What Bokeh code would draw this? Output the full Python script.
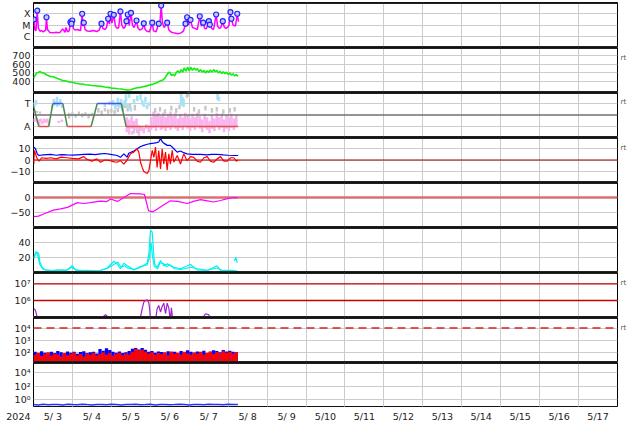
import numpy as np
from bokeh.plotting import figure
from bokeh.layouts import column
from bokeh.models import (Range1d, FixedTicker, CustomJSTickFormatter, Span, Grid,
                          LinearAxis, LogAxis)
from bokeh.core.properties import value
from bokeh.embed import file_html
from bokeh.resources import INLINE

# ---------------- tick / label data ----------------
year_label = "2024"
day_edges = [0, 24, 48, 72, 96, 120, 144, 168, 192, 216, 240, 264, 288, 312, 336, 360]
day_mid = [12, 36, 60, 84, 108, 132, 156, 180, 204, 228, 252, 276, 300, 324, 348]
day_labels = ["5/ 3", "5/ 4", "5/ 5", "5/ 6", "5/ 7", "5/ 8", "5/ 9", "5/10", "5/11",
              "5/12", "5/13", "5/14", "5/15", "5/16", "5/17"]
xray_exps = [-4, -5, -6]
xray_names = ["X", "M", "C"]
sup_exps = [0, 2, 3, 4, 6, 7]
sup_names = ["10\u2070", "10\u00b2", "10\u00b3", "10\u2074", "10\u2076", "10\u2077"]
sector_vals = [1, -1]
sector_names = ["T", "A"]
rt_text = "rt"

# ---------------- panel 1: X-ray flux (hours since 5/3 00UT) ----------------
xr_h = [0, 0.2, 0.8, 1.5, 2.3, 3.0, 4, 5, 6, 7.5,
        8.0, 8.6, 10, 12, 14, 16, 18, 19.5, 20, 21,
        22, 22.8, 23.4, 23.9, 24.6, 25.5, 27, 29, 30.0, 30.5,
        31.0, 31.8, 33, 35, 37, 39, 40.5, 41.9, 42.8, 44,
        45, 46.0, 46.8, 47.5, 48.3, 49.5, 50.5, 51.5, 52.5, 53.6,
        54.4, 55.5, 56.5, 57.3, 58.1, 59, 60.1, 61, 62, 63.5,
        64.3, 65.5, 67, 68.0, 68.8, 70, 71.5, 73.2, 74, 75.5,
        77.2, 77.8, 78.7, 79.5, 80.5, 82.4, 83.5, 85, 87, 89,
        91, 92.5, 93.7, 94.7, 95.5, 96.8, 98, 99.5, 101, 102.5,
        103.5, 104.6, 105.5, 106.5, 108.1, 108.7, 109.8, 111, 112.6, 113.5,
        114.5, 115.5, 116.7, 117.5, 118.5, 119.5, 120.5, 121.4, 122.0, 123,
        124.5, 125.6, 126.4]
xr_f = [2.8e-5, 3.0e-5, 4e-6, 3e-6, 1.7e-4, 5e-6, 2.8e-6, 3.2e-6, 2.5e-6, 3.5e-6,
        4.6e-5, 4e-6, 2.2e-6, 2.0e-6, 2.3e-6, 2.0e-6, 4.5e-6, 2.2e-6, 6e-6, 2.5e-6,
        3e-6, 1.7e-5, 1.2e-5, 2.3e-5, 5e-6, 3.5e-6, 4e-6, 3.2e-6, 9e-5, 8e-6,
        1.5e-5, 4e-6, 3e-6, 2.8e-6, 3.2e-6, 2.6e-6, 3.5e-6, 1.2e-5, 5e-6, 4e-6,
        6e-6, 3.3e-5, 1.2e-5, 9e-5, 1.5e-5, 7.5e-5, 8e-6, 5e-6, 6e-6, 1.5e-4,
        1e-5, 5e-6, 7e-6, 2e-5, 8e-5, 9e-6, 1.1e-4, 1e-5, 6e-6, 2.3e-5,
        6e-6, 3.5e-6, 4.5e-6, 1.3e-5, 4e-6, 2.8e-6, 2.5e-6, 1.5e-5, 3e-6, 2.5e-6,
        1.2e-5, 8e-6, 5e-4, 1.5e-5, 6e-6, 1.5e-5, 3.5e-6, 2.3e-6, 1.9e-6, 1.7e-6,
        2e-6, 3e-6, 1.2e-5, 4.5e-5, 1e-5, 2.7e-5, 6e-6, 5e-6, 4e-6, 5.5e-5,
        8e-6, 1.5e-5, 5e-6, 4.5e-6, 2e-5, 1e-5, 5e-6, 4e-6, 8e-5, 8e-6,
        5e-6, 6e-6, 2e-5, 7e-6, 5e-6, 6e-6, 9e-6, 1.3e-4, 3.3e-5, 1e-5,
        8e-6, 9e-5, 2e-5]
flare_h = [0.2, 2.3, 8.0, 22.8, 23.9, 23.4, 30.0, 31.0, 41.9, 46.0, 47.5, 49.5, 53.6, 57.3,
           58.1, 60.1, 63.5, 68.0, 73.2, 77.2, 78.7, 82.4, 93.7, 94.7, 96.8, 102.5, 104.6,
           108.1, 108.7, 112.6, 116.7, 121.4, 122.0, 125.6]
flare_f = [3.1e-5, 1.9e-4, 4.9e-5, 1.8e-5, 2.5e-5, 1.3e-5, 1.0e-4, 1.6e-5, 1.3e-5, 3.6e-5,
           1.0e-4, 8.1e-5, 1.6e-4, 2.2e-5, 8.6e-5, 1.2e-4, 2.5e-5, 1.4e-5, 1.6e-5, 1.3e-5,
           5.4e-4, 1.6e-5, 1.3e-5, 4.9e-5, 2.9e-5, 6.0e-5, 1.6e-5, 2.2e-5, 1.1e-5, 8.6e-5,
           2.2e-5, 1.4e-4, 3.6e-5, 1.0e-4]

# ---------------- panel 2: solar wind speed ----------------
sw_h = [0, 1, 2, 3, 4, 5, 6, 7, 8,
        10, 12, 14, 16, 18, 20, 22, 24, 26, 28, 30, 32, 34, 36, 38, 40, 42, 44, 46, 48,
        50, 52, 54, 56, 58, 60, 62, 64, 66, 68, 70, 72, 74, 76, 78, 80,
        81, 82, 83, 84, 85, 86, 87, 88, 89, 90, 91, 92, 93, 94, 95, 96, 97, 98, 99, 100,
        101, 102, 103, 104, 105, 106, 107, 108, 109, 110, 111, 112, 113, 114, 115, 116,
        117, 118, 119, 120, 121, 122, 123, 124, 125, 126]
sw_v = [440, 470, 500, 505, 520, 500, 505, 490, 480,
        460, 455, 440, 425, 410, 405, 395, 390, 380, 372, 370, 362, 358, 352, 350, 345,
        342, 335, 330, 322, 320, 315, 312, 305, 300, 302, 318, 325, 330, 340, 348, 360,
        370, 385, 405, 420,
        440, 470, 500, 510, 470, 485, 465, 505, 525, 500, 540, 510, 560, 520, 570, 525,
        565, 530, 560, 535, 550, 515, 540, 510, 530, 500, 525, 505, 535, 510, 540, 515,
        530, 500, 520, 495, 515, 490, 510, 480, 500, 475, 490, 465, 480, 460]

# ---------------- panel 3: IMF sector (T = +1, A = -1) ----------------
sector_h = [0, 3.3, 9.4, 11.9, 18.1, 20.8, 35.5, 39.3, 54.1, 57.1, 126.2]
sector_v = [0.75, -1, -1, 1, 1, -1, -1, 1, 1, -1, -1]
lb_h = [0.5, 1.5, 11.5, 12.5, 13.5, 14.5, 15.5, 16.5, 17.5,
        44, 47, 49, 50.5, 52, 53, 54, 55, 56, 57, 58, 59, 60, 62, 64,
        66, 67, 68, 69, 70, 71, 91, 91.8, 92.5, 113.5, 114.3]
lb_lo = [0.7, 0.9, 0.6, 0.8, 0.9, 0.7, 0.8, 1.0, 0.6,
         0.7, 0.9, 0.8, 0.5, 0.7, 0.6, 0.9, 0.3, 0.8, 1.2, 0.6, 1.5, 0.3, 1.0, 1.2,
         1.3, 0.9, 0.7, 1.1, 0.5, 0.8, 0.8, 1.0, 0.7, 1.3, 1.2]
lb_hi = [1.1, 1.3, 0.9, 1.4, 1.2, 1.6, 1.1, 1.4, 0.9,
         1.0, 1.2, 1.3, 1.0, 1.5, 1.1, 1.4, 0.8, 1.2, 1.8, 1.0, 1.9, 0.7, 1.4, 1.7,
         1.8, 1.3, 1.1, 1.6, 0.9, 1.1, 1.9, 1.6, 1.4, 1.9, 1.6]
gy_h = [0.5, 2, 4, 22, 24, 26, 28, 30, 32, 34, 36, 40, 42, 44, 46, 48, 50, 52, 55, 56.5,
        58, 59.5, 61, 62.5, 64, 75, 78, 81, 85, 88, 90, 94.5, 95.5, 99, 102, 106, 110,
        113, 117, 121, 124]
gy_lo = [0.15, 0.2, 0.1, -0.3, -0.1, -0.25, 0.0, -0.2, -0.05, -0.3, -0.1, 0.2, 0.0, 0.3,
         0.1, 0.2, 0.05, 0.25, 0.4, 0.6, 0.3, 0.5, -1.7, 0.4, -1.6, 0.2, 0.3, 0.1, 0.4,
         0.2, 0.5, 1.5, 1.6, 0.3, 0.1, 0.4, 0.2, 0.3, 0.1, 0.2, 0.3]
gy_hi = [0.4, 0.35, 0.3, 0.2, 0.25, 0.1, 0.3, 0.15, 0.25, 0.1, 0.2, 0.6, 0.4, 0.6, 0.5,
         0.55, 0.45, 0.6, 1.0, 1.3, 0.8, 1.0, -1.4, 0.9, -1.3, 0.6, 0.7, 0.5, 0.8, 0.6,
         0.9, 1.9, 2.0, 0.7, 0.5, 0.8, 0.6, 0.7, 0.5, 0.6, 0.7]
pk_h = [0.5, 1.5, 2.5, 3.5, 4.5, 5.5, 6.5, 7.5, 8.5, 9.5, 15.5, 17.5,
        57.5, 59, 60.5, 62, 63.5, 65, 66.5, 68, 69.5, 71, 72.5, 74, 75.5, 77, 78.5, 80,
        81.5, 83, 84.5, 86, 87.5, 89, 90.5, 92, 93.5, 95, 96.5, 98, 99.5, 101, 102.5,
        104, 105.5, 107, 108.5, 110, 111.5, 113, 114.5, 116, 117.5, 119, 120.5, 122,
        123.5, 125]
pk_lo = [-0.6, -0.5, -0.7, -0.9, -0.6, -0.8, -0.6, -0.7, -0.6, -0.9, -0.7, -0.6,
         -1.5, -1.7, -1.2, -1.6, -1.3, -1.8, -1.4, -1.6, -1.2, -1.5, -1.3, -1.1, -1.4,
         -1.0, -1.3, -1.2, -1.4, -1.1, -1.3, -1.0, -1.2, -1.4, -1.1, -1.3, -1.0, -1.2,
         -1.4, -1.1, -1.3, -1.0, -1.2, -1.5, -1.1, -1.3, -1.6, -1.2, -1.4, -1.0, -1.3,
         -1.1, -1.5, -1.2, -1.4, -1.1, -1.3, -1.0]
pk_hi = [-0.3, -0.2, -0.4, -0.4, -0.3, -0.5, -0.3, -0.4, -0.3, -0.5, -0.5, -0.4,
         -0.2, -0.4, -0.1, -0.5, -0.3, -0.9, -1.0, -1.1, -0.8, -0.9, -0.2, 0.3, 0.1,
         0.2, -0.1, 0.2, -0.2, 0.1, 0.3, -0.1, 0.2, -0.3, 0.1, -0.2, 0.2, 0.0, -0.3,
         0.1, -0.2, 0.2, -0.1, -0.4, 0.1, -0.2, -0.5, 0.0, -0.3, 0.2, -0.2, 0.1, -0.4,
         0.0, -0.2, 0.1, -0.3, 0.0]

# ---------------- panel 4: IMF Bt / Bz (nT) ----------------
bt_h = [0.2, 1.2, 2.3, 3.3, 6, 10.5, 14, 17, 20.7, 24, 27, 31, 35, 38, 41.3, 44, 47.5,
        51.6, 53.6, 55.7, 57.7, 58.7, 61.8, 64, 66, 68, 70.1, 72, 74.2, 76, 77.2, 78.3,
        79.5, 80.3, 82.4, 84.4, 86.5, 88.6, 90.6, 92.6, 94.7, 98, 102.9, 107, 110, 113.2,
        117, 120, 123.5, 126.2]
bt_v = [11.5, 10, 5.5, 4, 4.5, 5, 4.2, 4.8, 4.5, 4.3, 4.6, 5, 5.2, 4.8, 5.5, 5.8, 5, 4,
        2.4, 5.5, 2.5, 6, 8, 10, 12, 13, 14, 14.5, 15, 15.5, 16, 19, 16, 15, 13, 13, 10,
        7, 8, 6.5, 5.5, 5, 5, 4.5, 5, 5, 4.5, 4.2, 4, 4]
bz_h = [0.2, 0.5, 2.3, 3.5, 5, 8, 10.5, 14, 17, 20.7, 24, 27.7, 31, 33, 36, 39, 41.3, 44,
        47.5, 49, 51.6, 53.6, 55.7, 57.7, 59.8, 61.8, 63.9, 64.9, 66, 67, 68, 70.1, 71.1,
        72.1, 73.2, 74.2, 75.2, 76.2, 77.2, 78.3, 79.3, 80.3, 81.4, 82.4, 83.4, 84.4,
        85.5, 86.5, 88.6, 90.6, 92.6, 94.7, 96.8, 98.8, 100.9, 102.9, 105, 107.1, 109,
        111.1, 113.2, 115.3, 117.4, 119.4, 121.5, 123.5, 125, 126.2]
bz_v = [-3.6, 8.5, 1, -1, 2, 1.5, 2, 1, 2.5, 2, 1.5, 1, 3, 0.5, -1, 1, -2, 0, -0.6, -1.5,
        -2, -0.5, -3.6, 0, 5.5, 7, 10, 7, -2, -6.6, -10.3, -12, -9.7, -0.6, 8.5, 2.4,
        11.5, -6.6, 8.5, -8, 10, -3.6, 7, -9, 5.5, -3.6, 8.5, -2, 4, -3.6, 5.5, -0.6, 3,
        2.4, -1, -2, 2, 3, -1, -2, 1, 3, -1, -1, 2, 2, -1, 0]

# ---------------- panel 5: Dst (nT) ----------------
dst_h = [0, 3.1, 6.2, 12.3, 16.6, 21, 27, 30.8, 35, 41.3, 45, 47.5, 51.8, 55.5, 59.8, 66,
         68.4, 70.9, 73.4, 76.4, 80.1, 84.4, 88.8, 94.9, 98.6, 102.9, 107.3, 111, 115.3,
         119.6, 123.3, 125.8]
dst_v = [-64, -62, -55, -42, -38, -33, -17, -20, -17, -12, -14, -5, -13, -1, 13, 12, 10,
         -44, -48, -38, -25, -11, -13, -20, -13, -7, -11, -15, -10, -4, 0, -1]

# ---------------- panel 6: density (two sources) ----------------
n1_h = [0.2, 1.2, 2.3, 3.3, 3.9, 5.3, 7.4, 12.5, 20.7, 23.8, 25.9, 33.1, 41.3, 45.4, 49.5,
        51.6, 53.6, 55.7, 57.8, 61.8, 66, 70.1, 71.1, 72.1, 73.2, 73.8, 74.6, 76.2, 78.3,
        80.3, 82.4, 86.5, 90.6, 96.8, 100.9, 107.1, 113.2, 115.3, 123.5, 125.6]
n1_v = [18, 25, 27, 25, 14, 7, 3.5, 2.7, 3.5, 9, 3.5, 2, 2.7, 6, 15, 11.5, 5, 12.4, 9,
        3.5, 7, 12.4, 25, 56, 54, 34, 11.5, 7, 16, 9, 11.5, 7, 5, 10.7, 3.5, 2.7, 9, 2.7,
        2.7, 2]
n2_h = [0.2, 1.5, 2.5, 4, 6, 10, 15, 20, 23.5, 27, 33, 40, 45, 49, 52, 54, 56, 58, 62,
        66, 70, 71.5, 72.5, 73.3, 74.5, 76.5, 78, 80, 82, 84, 87, 91, 97, 101, 107, 113,
        116, 123, np.nan, 123.8, 124.7, 125.6]
n2_v = [20, 28, 24, 10, 4, 2, 3.5, 2.5, 7, 2.5, 3, 2, 5, 10, 14, 7, 9, 6, 4, 8, 10, 20,
        40, 22, 8, 5, 13, 12, 8, 10, 5, 4, 7, 5, 3, 6, 3, 3, np.nan, 15, 20, 13]

# ---------------- panel 7: electron flux ----------------
el_h = [0.2, 1.0, 1.8, 2.3, 3, 40, 42, 43.5, 44.5, 45.5, 46.5, 48, 54.5, 55.5, 56.5, 65,
        66, 67, 68, 69, 70.1, 71.1, 71.7, 72.1, 73, 75.2, 76.2, 77.2, 78.3, 79.3, 80.3,
        81.4, 82.4, 83.4, 84.4, 85, 85.9, 87, 90, 90.6, 91.2, 104, 106, 108, 109.3, 111]
el_v = [3.2e5, 2.8e5, 1.6e5, 8e4, 5e4, 5e4, 8e4, 1.2e5, 1.4e5, 1.1e5, 8e4, 5e4, 7e4,
        1.1e5, 7e4, 6e4, 1.05e5, 3.2e5, 7.9e5, 1.0e6, 1.1e6, 7e5, 2.5e5, 6e4, 4e4, 6e4,
        3.2e5, 5e5, 2e5, 4.4e5, 6.9e5, 1.6e5, 6.9e5, 3.6e5, 6e4, 3.6e5, 6e4, 4e4, 7e4,
        1.05e5, 7e4, 8e4, 1.6e5, 1.4e5, 8e4, 5e4]

# ---------------- panel 8: particle counts (blue, red) ----------------
p8_h = [1, 3, 5, 7, 9, 11, 13, 15, 17, 19, 21, 23, 25, 27, 29, 31, 33, 35, 37, 39,
        41, 43, 45, 47, 49, 51, 53, 55, 57, 59, 61, 63, 65, 67, 69, 71, 73, 75, 77, 79,
        81, 83, 85, 87, 89, 91, 93, 95, 97, 99, 101, 103, 105, 107, 109, 111, 113, 115,
        117, 119, 121, 123, 125]
p8_blue = [120, 90, 135, 100, 85, 125, 95, 140, 110, 90,
           130, 100, 120, 85, 115, 135, 95, 110, 125, 90,
           200, 150, 230, 170, 120, 100, 130, 95, 110, 140,
           210, 250, 190, 240, 180, 120, 140, 100, 130, 115,
           90, 135, 110, 125, 95, 140, 105, 160, 120, 100,
           130, 110, 150, 95, 125, 165, 140, 110, 170, 130,
           150, 120, 110]
p8_red = [70, 100, 55, 85, 110, 60, 90, 75, 50, 95,
          65, 85, 105, 60, 80, 50, 90, 70, 100, 60,
          80, 110, 70, 95, 60, 85, 100, 65, 90, 75,
          120, 200, 160, 180, 130, 90, 110, 70, 95, 80,
          110, 65, 130, 85, 100, 70, 120, 90, 75, 105,
          85, 125, 70, 100, 130, 80, 115, 95, 140, 100,
          120, 90, 110]

# ---------------- panel 9: low-level flux ----------------
p9_h = [0, 3, 6, 9, 12, 15, 18, 21, 24, 27, 30, 33, 36, 39, 42, 45, 48, 51, 54, 57, 60,
        63, 66, 69, 72, 75, 78, 81, 84, 87, 90, 93, 96, 99, 102, 105, 108, 111, 114, 117,
        120, 123, 126]
p9_v = [0.2, 0.18, 0.22, 0.19, 0.21, 0.2, 0.17, 0.22, 0.2, 0.19,
        0.23, 0.2, 0.18, 0.21, 0.2, 0.19, 0.22, 0.2, 0.18, 0.21,
        0.2, 0.23, 0.19, 0.2, 0.22, 0.18, 0.2, 0.21, 0.19, 0.2,
        0.22, 0.2, 0.18, 0.21, 0.2, 0.19, 0.22, 0.2, 0.21, 0.19,
        0.23, 0.2, 0.21]

# ---------------- styling helpers ----------------
FONT = "DejaVu Sans"
TXT = "#222222"
GRID = "#cccccc"
FS = "9.5px"
X_RANGE = Range1d(0, 360)
W = 632
LEFT = 33
FRAME_W = 584
RIGHT = W - LEFT - FRAME_W


def log_fmt(exps, names):
    return CustomJSTickFormatter(args=dict(exps=exps, names=names), code="""
        const e = Math.round(Math.log10(tick));
        const i = exps.indexOf(e);
        return i >= 0 ? names[i] : "";
    """)


def quiet_axis(ax, size=FS, color=TXT, standoff=3):
    ax.axis_line_color = None
    ax.major_tick_line_color = None
    ax.minor_tick_line_color = None
    ax.major_tick_out = 0
    ax.major_tick_in = 0
    ax.minor_tick_out = 0
    ax.minor_tick_in = 0
    ax.major_label_text_font = FONT
    ax.major_label_text_font_size = size
    ax.major_label_text_color = color
    ax.major_label_standoff = standoff


def panel(ylo, yhi, yticks, ytype="linear", top=0, bottom_w=3, fmt=None, rt_at=None):
    p = figure(width=W, height=45 + top, x_range=X_RANGE,
               y_range=Range1d(ylo, yhi), y_axis_type=ytype,
               x_axis_location=None, title=None,
               toolbar_location=None, output_backend="svg",
               min_border_left=LEFT, min_border_right=RIGHT,
               min_border_top=top, min_border_bottom=0,
               outline_line_color="black", outline_line_width=1,
               background_fill_color="white", border_fill_color="white")
    ax = p.yaxis[0]
    ax.ticker = FixedTicker(ticks=yticks)
    if fmt is not None:
        ax.formatter = fmt
    quiet_axis(ax)
    p.ygrid.ticker = FixedTicker(ticks=yticks)
    p.ygrid.grid_line_color = GRID
    if len(p.xgrid) == 0:
        p.add_layout(Grid(dimension=0, ticker=FixedTicker(ticks=day_edges), grid_line_color=GRID))
    else:
        p.xgrid.ticker = FixedTicker(ticks=day_edges)
        p.xgrid.grid_line_color = GRID
    p.add_layout(Span(location=yhi, dimension="width", line_color="#222222", line_width=3))
    p.add_layout(Span(location=ylo, dimension="width", line_color="#222222", line_width=bottom_w))
    if rt_at is not None:
        rax = (LogAxis if ytype == "log" else LinearAxis)(
            ticker=FixedTicker(ticks=[rt_at]),
            formatter=CustomJSTickFormatter(args=dict(rtlabel=rt_text), code="return rtlabel;"))
        quiet_axis(rax, size="7px", color="#555555", standoff=3)
        p.add_layout(rax, "right")
    return p


def ref_line(p, loc, color, width=1.0, dash="solid"):
    p.add_layout(Span(location=loc, dimension="width", line_color=color, line_width=width,
                      line_dash=dash, level="underlay"))


figs = []

# 1 X-ray
p1 = panel(1e-7, 1e-3, [1e-6, 1e-5, 1e-4], ytype="log", top=2, fmt=log_fmt(xray_exps, xray_names))
p1.line(xr_h, xr_f, line_color="#ff00ff", line_width=1.5)
p1.scatter(flare_h, flare_f, marker="circle", size=5, fill_color="#c8c8ff",
           line_color="#2222ff", line_width=1.2)
figs.append(p1)

# 2 speed
p2 = panel(270, 800, [400, 500, 600, 700], rt_at=682)
p2.line(sw_h, sw_v, line_color="#11ee11", line_width=1.6)
figs.append(p2)

# 3 sector
p3 = panel(-1.96, 1.96, sector_vals, rt_at=1.09,
           fmt=CustomJSTickFormatter(args=dict(vals=sector_vals, names=sector_names), code="""
               const i = vals.indexOf(tick);
               return i >= 0 ? names[i] : "";
           """))
p3.segment(pk_h, pk_lo, pk_h, pk_hi, line_color="#f9b4ee", line_width=2.6)
p3.segment(gy_h, gy_lo, gy_h, gy_hi, line_color="#c8c8c8", line_width=2.4)
p3.segment(lb_h, lb_lo, lb_h, lb_hi, line_color="#a6e2f8", line_width=2.6)
p3.add_layout(Span(location=0, dimension="width", line_color="#707070", line_width=1.5))
seg_col = {1: "#5050ee", -1: "#e05050"}
sx0, sy0, sx1, sy1, scol = [], [], [], [], []
for i in range(len(sector_h) - 1):
    sx0.append(sector_h[i]); sy0.append(sector_v[i])
    sx1.append(sector_h[i + 1]); sy1.append(sector_v[i + 1])
    if sector_v[i] == sector_v[i + 1]:
        scol.append(seg_col[sector_v[i]])
    else:
        scol.append("#4a8a4a")
p3.segment(sx0, sy0, sx1, sy1, line_color=scol, line_width=1.5)
figs.append(p3)

# 4 IMF
p4 = panel(-20, 20, [-10, 0, 10], rt_at=11.1)
ref_line(p4, 0, "#aa0000", 1.2)
p4.line(bt_h, bt_v, line_color="#0000ff", line_width=1.2)
p4.line(bz_h, bz_v, line_color="#ff0000", line_width=1.2)
figs.append(p4)

# 5 Dst
p5 = panel(-100, 50, [-50, 0])
ref_line(p5, 0, "#d87070", 2.5)
p5.line(dst_h, dst_v, line_color="#ff00ff", line_width=1.2)
figs.append(p5)

# 6 density
p6 = panel(0, 60, [20, 40])
p6.line(n1_h, n1_v, line_color="#00f0f0", line_width=1.2)
p6.line(n2_h, n2_v, line_color="#00f0f0", line_width=1.2)
figs.append(p6)

# 7 electrons
p7 = panel(9.5e4, 4.8e7, [1e6, 1e7], ytype="log", fmt=log_fmt(sup_exps, sup_names), rt_at=1.2e7)
ref_line(p7, 1e7, "#cc0000", 1.3)
ref_line(p7, 1e6, "#cc0000", 1.3)
p7.line(el_h, el_v, line_color="#a020d0", line_width=1.2)
figs.append(p7)

# 8 counts
p8 = panel(16.6, 7.1e4, [1e2, 1e3, 1e4], ytype="log", fmt=log_fmt(sup_exps, sup_names),
           rt_at=1.1e4)
ref_line(p8, 1e4, "#dd2222", 1.5, "8 5")
p8.vbar(x=p8_h, width=2, top=p8_blue, bottom=1, fill_color="#0000ff", line_color=None)
p8.vbar(x=p8_h, width=2, top=p8_red, bottom=1, fill_color="#ff0000", line_color=None)
figs.append(p8)

# 9 bottom data panel
p9 = panel(0.076, 2.57e5, [1e0, 1e2, 1e4], ytype="log", bottom_w=2,
           fmt=log_fmt(sup_exps, sup_names))
p9.line(p9_h, p9_v, line_color="#2233ff", line_width=1.5)
figs.append(p9)

# time-label strip: year as the strip's left-axis label, dates along the shared time scale
LABEL_ROW = 0.47
strip = figure(width=W, height=17, x_range=X_RANGE, y_range=Range1d(0, 1),
               x_axis_location=None, title=None, toolbar_location=None, output_backend="svg",
               min_border_left=LEFT, min_border_right=RIGHT, min_border_top=0,
               min_border_bottom=0, outline_line_color=None,
               background_fill_color="white", border_fill_color="white")
strip.grid.visible = False
yax = strip.yaxis[0]
yax.ticker = FixedTicker(ticks=[LABEL_ROW])
yax.formatter = CustomJSTickFormatter(args=dict(yl=year_label), code="return yl;")
quiet_axis(yax)
strip.text(x=day_mid, y=LABEL_ROW, text=day_labels, text_align="center",
           text_baseline="middle", text_font=value(FONT), text_font_size=FS,
           text_color=TXT)
figs.append(strip)

layout = column(*figs, spacing=0)

open("out.html", "w").write(file_html(layout, INLINE))
